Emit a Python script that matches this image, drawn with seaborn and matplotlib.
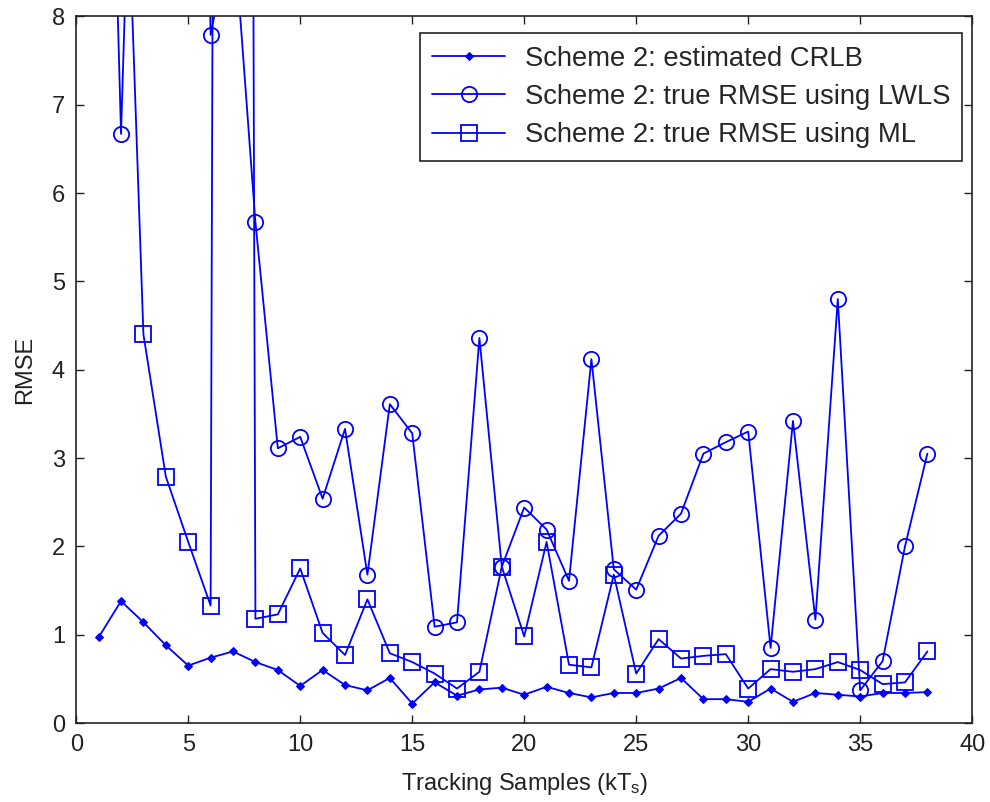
import numpy as np
import pandas as pd
import matplotlib
matplotlib.use('Agg')
import matplotlib.pyplot as plt
import seaborn as sns

# Tracking samples k = 1..38
samples = list(range(1, 39))

# Scheme 2: estimated CRLB
crlb = [0.97, 1.38, 1.14, 0.88, 0.65, 0.74, 0.81, 0.69, 0.60, 0.42,
        0.60, 0.43, 0.37, 0.51, 0.22, 0.46, 0.31, 0.38, 0.40, 0.32,
        0.41, 0.34, 0.29, 0.34, 0.34, 0.39, 0.51, 0.27, 0.27, 0.24,
        0.39, 0.24, 0.34, 0.32, 0.30, 0.34, 0.34, 0.35]

# Scheme 2: true RMSE using LWLS (values above 8 run off the top)
rmse_lwls = [16.0, 6.67, 15.0, 18.0, 20.0, 7.79, 9.1, 5.67, 3.11, 3.24,
             2.54, 3.33, 1.68, 3.61, 3.28, 1.09, 1.14, 4.36, 1.77, 2.44,
             2.19, 1.61, 4.12, 1.74, 1.51, 2.12, 2.37, 3.05, 3.18, 3.30,
             0.85, 3.42, 1.17, 4.80, 0.37, 0.70, 2.00, 3.05]

# Scheme 2: true RMSE using ML
rmse_ml = [14.0, 11.7, 4.40, 2.79, 2.05, 1.33, 80.0, 1.18, 1.23, 1.75,
           1.02, 0.77, 1.40, 0.79, 0.69, 0.56, 0.39, 0.58, 1.77, 0.98,
           2.05, 0.66, 0.63, 1.68, 0.56, 0.95, 0.73, 0.76, 0.78, 0.39,
           0.61, 0.58, 0.61, 0.69, 0.60, 0.44, 0.46, 0.81]

labels = ['Scheme 2: estimated CRLB',
          'Scheme 2: true RMSE using LWLS',
          'Scheme 2: true RMSE using ML']

sns.set_style('ticks')
plt.rcParams['font.family'] = ['Liberation Sans', 'DejaVu Sans']
plt.rcParams['mathtext.default'] = 'regular'

fig = plt.figure(figsize=(9.9, 8.02), dpi=100)
ax = fig.add_axes([0.077, 0.0985, 0.905, 0.881])

blue = '#0000ff'
sns.lineplot(x=samples, y=crlb, ax=ax, color=blue, lw=1.3, marker='D',
             markersize=4.5, markeredgecolor=blue, markerfacecolor=blue,
             label=labels[0])
sns.lineplot(x=samples, y=rmse_lwls, ax=ax, color=blue, lw=1.3, marker='o',
             markersize=11, markeredgecolor=blue, markerfacecolor='none',
             markeredgewidth=1.3, label=labels[1])
sns.lineplot(x=samples, y=rmse_ml, ax=ax, color=blue, lw=1.3, marker='s',
             markersize=12, markeredgecolor=blue, markerfacecolor='none',
             markeredgewidth=1.3, label=labels[2])

ax.set_xlim(0, 40)
ax.set_ylim(0, 8)
ax.set_xticks(np.arange(0, 41, 5))
ax.set_yticks(np.arange(0, 9, 1))
ax.tick_params(direction='in', length=6, width=1, top=True, right=True,
               labelsize=17, colors='#222222', pad=8)
for s in ax.spines.values():
    s.set_color('#222222')
    s.set_linewidth(1.2)

ax.set_xlabel('Tracking Samples (kT$_s$)', fontsize=17, color='#222222', labelpad=11)
ax.set_ylabel('RMSE', fontsize=17, color='#222222', labelpad=11)

leg = ax.legend(loc='upper right', bbox_to_anchor=(0.989, 0.976),
                fontsize=19.7, frameon=True, fancybox=False,
                edgecolor='#222222', framealpha=1, handlelength=2.67,
                borderaxespad=0, labelspacing=0.45, handletextpad=0.7,
                borderpad=0.45)
leg.get_frame().set_linewidth(1.2)

fig.savefig('out.png', dpi=100)
